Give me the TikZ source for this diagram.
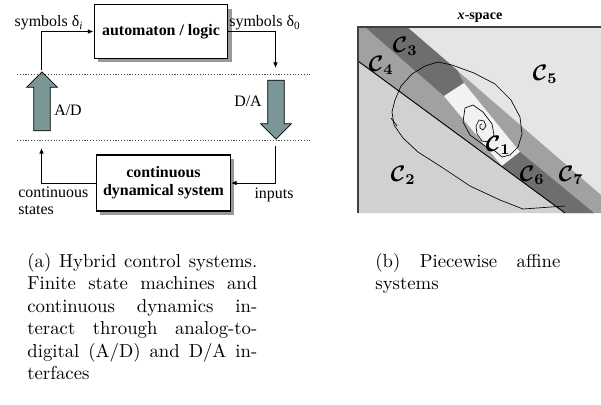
\documentclass[tikz,border=0pt]{standalone}
\usepackage{fontspec}
\usepackage{bm}
\usetikzlibrary{arrows.meta}
\usetikzlibrary{shapes.arrows,shadows}
\newfontfamily\timesfont{Liberation Serif}

\definecolor{arrowgray}{RGB}{122,150,150}
\definecolor{cellfive}{gray}{0.90}
\definecolor{celltwo}{gray}{0.82}
\definecolor{cellmid}{gray}{0.63}
\definecolor{celldark}{gray}{0.43}
\definecolor{cellone}{gray}{0.95}

\tikzstyle{logicbox} = [rectangle, draw=black, line width=0.6pt, fill=white, minimum width=2.51cm, minimum height=1cm, align=center, font=\timesfont\fontsize{8.5}{9.5}\selectfont\bfseries, drop shadow={shadow xshift=0.07cm, shadow yshift=-0.07cm, fill=gray!80, opacity=1}]
\tikzstyle{convarrow} = [single arrow, draw=black, fill=arrowgray, line width=0.4pt, minimum height=1.106cm, minimum width=0.562cm, single arrow head extend=0.131cm, inner xsep=0pt, inner ysep=0.15cm]
\tikzstyle{sigtext} = [font=\timesfont\fontsize{8.5}{9}\selectfont, inner sep=0pt]
\tikzstyle{celltext} = [font=\fontsize{11.5}{13}\selectfont, inner sep=0pt]
\tikzstyle{sigline} = [-{Latex[length=3pt,width=2.5pt]}, line width=0.5pt]
\tikzstyle{caption} = [anchor=north west, align=justify, inner sep=0pt, font=\fontsize{10}{12}\selectfont]

\begin{document}
\begin{tikzpicture}[x=0.018747cm, y=-0.018747cm]
  \useasboundingbox (0,0) rectangle (601,404);

  % hybrid loop: logic on top, plant below
  \node (logic) [logicbox] at (161,31.5) {automaton / logic};
  \node (plant) [logicbox, minimum height=1.05cm] at (163.5,183) {continuous\\dynamical system};
  \node (ad) [convarrow, rotate=90] at (42,105.5) {};
  \node (da) [convarrow, rotate=-90] at (276,105.5) {};
  \coordinate (adout) at (41.5,70);
  \coordinate (adin) at (41.5,148);
  \coordinate (dain) at (275.5,68);
  \coordinate (daout) at (275.5,146);

  \draw[gray!60!black, dash pattern=on 0.6pt off 0.9pt] (17,74) -- (310,74);
  \draw[gray!60!black, dash pattern=on 0.6pt off 0.9pt] (17,140) -- (310,140);

  \draw[sigline] (adout) |- (logic);
  \draw[sigline] (logic) -| (dain);
  \draw[sigline] (daout) |- (plant);
  \draw[sigline] (plant) -| (adin);

  \node[sigtext] at (49,23) {symbols δ\textsubscript{\textit{i}}};
  \node[sigtext] at (265,23) {symbols δ\textsubscript{0}};
  \node[sigtext] at (68,110) {A/D};
  \node[sigtext] at (248,101) {D/A};
  \node[sigtext] at (274,195) {inputs};
  \node[sigtext, align=left, anchor=north west] at (18,187) {continuous\\states};

  % piecewise affine partition of the state space
  \node[font=\timesfont\fontsize{7.5}{8}\selectfont\bfseries] at (480,18) {\textit{x}-space};
  \fill[cellfive] (358,27) rectangle (601,213);
  \fill[cellmid] (358,27) -- (407,27) -- (601,195) -- (601,213) -- (565,213) -- (358,61) -- cycle;
  \fill[celltwo] (358,61) -- (565,213) -- (358,213) -- cycle;
  \fill[celldark] (365,27) -- (407,27) -- (457,70) -- (464,83) -- (444,96) -- cycle;
  \fill[cellone] (444,96) -- (464,83) -- (520,152) -- (502,166) -- cycle;
  \fill[celldark] (502,166) -- (520,152) -- (594,213) -- (565,213) -- cycle;
  \draw[line width=0.5pt] (358,61) -- (565,213);
  \draw[gray!50!black, line width=0.6pt] (358,213) -- (358,27) -- (601,27);

  % trajectory
  \draw[line width=0.35pt] (565,206) -- (523,209) -- (500,200) -- (470,186) -- (443,168)
    -- (418,152) -- (403,138) -- (394,125) -- (392,112) -- (395,100) -- (401,86)
    -- (412,74) -- (425,66) -- (438,62) -- (452,65) -- (474,73) -- (495,84) -- (511,100)
    -- (520,117) -- (522,134) -- (518,147) -- (510,155) -- (502,157) -- (495,151)
    -- (485,146) -- (470,135) -- (463,122) -- (465,108) -- (473,105) -- (483,112)
    -- (492,124) -- (494,135) -- (489,142) -- (482,141) -- (477,134) -- (476,126)
    -- (479,120) -- (484,121) -- (486,126) -- (483,130) -- (480,128) -- (480,125) -- (482,124);
  \draw[line width=0.35pt] (397,126) -- (391,118);

  \node[celltext] at (498,145) {$\bm{\mathcal{C}_1}$};
  \node[celltext] at (403,175) {$\bm{\mathcal{C}_2}$};
  \node[celltext] at (405,46) {$\bm{\mathcal{C}_3}$};
  \node[celltext] at (381,65) {$\bm{\mathcal{C}_4}$};
  \node[celltext] at (545,74) {$\bm{\mathcal{C}_5}$};
  \node[celltext] at (532,175) {$\bm{\mathcal{C}_6}$};
  \node[celltext] at (571,175) {$\bm{\mathcal{C}_7}$};

  % captions
  \node (capa) [caption, text width=4.312cm] at (27,253) {(a) Hybrid control systems.\linebreak Finite state machines and\linebreak continuous dynamics in-\linebreak teract through analog-to-\linebreak digital (A/D) and D/A in-\linebreak terfaces};
  \node (capb) [caption, text width=3.47cm] at (375,253) {(b) Piecewise affine systems};
\end{tikzpicture}
\end{document}
